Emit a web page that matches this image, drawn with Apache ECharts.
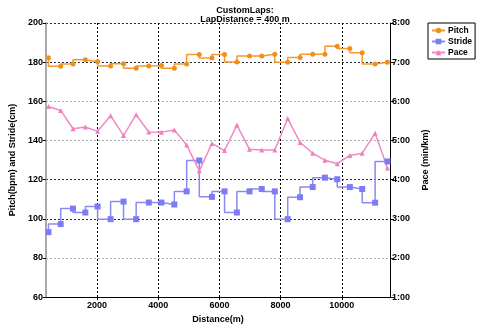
<!DOCTYPE html>
<html>
<head>
<meta charset="utf-8">
<script src="https://cdn.jsdelivr.net/npm/echarts@6/dist/echarts.min.js"></script>
<style>
html,body{margin:0;padding:0;background:#fff;}
#chart{width:480px;height:329px;}
</style>
</head>
<body>
<div id="chart"></div>
<script>
// Distance (m) at each lap point
const distance = [413, 813, 1216, 1619, 2019, 2444, 2867, 3279, 3692, 4105, 4527, 4930, 5343, 5756,
  6168, 6571, 6984, 7384, 7810, 8232, 8635, 9048, 9448, 9851, 10263, 10667, 11089, 11492];
// Pitch (bpm)
const pitch = [182.2, 177.9, 179.0, 181.2, 180.2, 178.1, 179.2, 176.9, 178.1, 178.3, 176.9, 179.0, 183.9, 182.1,
  183.9, 180.1, 183.2, 183.2, 184.0, 179.9, 182.4, 184.0, 184.0, 188.1, 187.0, 184.8, 179.0, 180.0];
// Stride (cm)
const stride = [93.2, 97.3, 105.2, 103.2, 106.3, 99.8, 108.8, 99.8, 108.3, 108.3, 107.3, 114.0, 129.8, 111.2,
  114.0, 103.2, 114.0, 115.2, 114.0, 99.8, 111.0, 116.2, 121.0, 120.2, 116.2, 115.2, 108.2, 129.3];
// Pace (min/km, decimal minutes)
const pace = [5.867, 5.767, 5.30, 5.343, 5.233, 5.633, 5.125, 5.658, 5.218, 5.213, 5.268, 4.883, 4.225, 4.925,
  4.743, 5.393, 4.775, 4.758, 4.758, 5.558, 4.95, 4.675, 4.493, 4.408, 4.618, 4.675, 5.183, 4.30];
const titleLines = ['CustomLaps:', 'LapDistance = 400 m'];
const leftTicks = [60, 200, 20];   // min, max, interval
const rightTicks = [1, 8, 1];

const font = 'Liberation Sans';
const pair = arr => arr.map((v, i) => [distance[i], v]);

const chart = echarts.init(document.getElementById('chart'), null, {renderer: 'canvas'});
chart.setOption({
  animation: false,
  backgroundColor: '#fff',
  title: {
    text: titleLines.join('\n'),
    left: 240, top: 1, textAlign: 'center',
    textStyle: {fontFamily: font, fontSize: 9, fontWeight: 'bold', color: '#000', lineHeight: 9}
  },
  legend: {
    orient: 'vertical', left: 428, top: 23,
    padding: [3, 3, 2, 3], itemGap: 2,
    itemWidth: 13, itemHeight: 7,
    borderColor: '#000', borderWidth: 1, backgroundColor: '#fff',
    textStyle: {fontFamily: font, fontSize: 8.5, fontWeight: 'bold', color: '#000', padding: [0,0,0,-2]},
    data: ['Pitch', 'Stride', 'Pace']
  },
  grid: {left: 36, right: 90, top: 23, bottom: 27, containLabel: false},
  xAxis: {
    type: 'value', min: 330, max: 11575,
    name: 'Distance(m)', nameLocation: 'middle', nameGap: 16,
    nameTextStyle: {fontFamily: font, fontSize: 9, fontWeight: 'bold', color: '#000'},
    axisLine: {show: true, lineStyle: {color: '#000', width: 1}},
    axisTick: {show: true, length: 3, lineStyle: {color: '#000'}},
    axisLabel: {fontFamily: font, fontSize: 9, fontWeight: 'bold', color: '#000', margin: 4,
      showMinLabel: false, showMaxLabel: false, formatter: v => String(v)},
    splitLine: {show: true, lineStyle: {color: '#000', type: [2, 2], width: 1}}
  },
  yAxis: [{
    type: 'value', min: leftTicks[0], max: leftTicks[1], interval: leftTicks[2], position: 'left',
    name: 'Pitch(bpm) and Stride(cm)', nameLocation: 'middle', nameGap: 21, nameRotate: 90,
    nameTextStyle: {fontFamily: font, fontSize: 9, fontWeight: 'bold', color: '#000'},
    axisLine: {show: true, lineStyle: {color: '#aaa', width: 2}},
    axisTick: {show: true, length: 3, lineStyle: {color: '#000'}},
    axisLabel: {fontFamily: font, fontSize: 9, fontWeight: 'bold', color: '#000', margin: 3},
    splitLine: {show: true, lineStyle: {
      color: ['#222', '#aaa', '#222', '#222', '#aaa', '#aaa', '#222', '#222'],
      type: [2, 2], width: 1}}
  }, {
    type: 'value', min: rightTicks[0], max: rightTicks[1], interval: rightTicks[2], position: 'right',
    name: 'Pace (min/km)', nameLocation: 'middle', nameGap: 24, nameRotate: 90,
    nameTextStyle: {fontFamily: font, fontSize: 9, fontWeight: 'bold', color: '#000'},
    axisLine: {show: true, lineStyle: {color: '#000', width: 1}},
    axisTick: {show: true, length: 4, lineStyle: {color: '#000'}},
    axisLabel: {fontFamily: font, fontSize: 9, fontWeight: 'bold', color: '#000', margin: 2,
      formatter: v => v + ':00'},
    splitLine: {show: false}
  }],
  series: [{
    name: 'Pitch', type: 'line', step: 'start', yAxisIndex: 0,
    data: pair(pitch),
    symbol: 'circle', symbolSize: 5,
    lineStyle: {color: '#f29a30', width: 1.5},
    itemStyle: {color: '#f0901c'}
  }, {
    name: 'Stride', type: 'line', step: 'start', yAxisIndex: 0,
    data: pair(stride),
    symbol: 'rect', symbolSize: 6,
    lineStyle: {color: '#8a8af0', width: 1.5},
    itemStyle: {color: '#7c7cf4'}
  }, {
    name: 'Pace', type: 'line', yAxisIndex: 1,
    data: pair(pace),
    symbol: 'triangle', symbolSize: 5,
    lineStyle: {color: '#f08ac4', width: 1.5},
    itemStyle: {color: '#f07ec0'}
  }]
});
</script>
</body>
</html>
